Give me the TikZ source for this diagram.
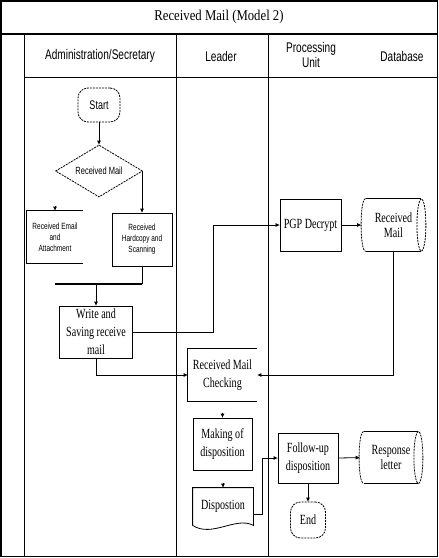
\documentclass[tikz,border=0pt]{standalone}
\usepackage{fontspec}
\setmainfont[FakeStretch=0.72]{Liberation Serif}
\setsansfont[FakeStretch=0.72]{Liberation Sans}
\newfontfamily\titlefont[FakeStretch=0.85]{Liberation Serif}
\usetikzlibrary{arrows.meta,shapes.geometric}

\begin{document}
\begin{tikzpicture}[x=1pt, y=-1pt, line width=0.8pt,
    arr/.style={-{Triangle[length=4pt,width=3.5pt]}},
    brk/.style={dash pattern=on 2pt off 1pt},
    lanehead/.style={font=\sffamily\fontsize{14}{15}\selectfont, align=center},
    term/.style={draw, brk, rounded corners=10pt, inner sep=1pt},
    decide/.style={draw, brk, diamond, aspect=1.67, inner sep=1pt,
      minimum width=87, minimum height=52, font=\sffamily\fontsize{10.4}{12}\selectfont},
    smallbox/.style={inner sep=1pt, align=center, font=\sffamily\fontsize{9}{11}\selectfont},
    proc/.style={draw, inner sep=1pt, align=center, font=\fontsize{14}{18}\selectfont},
    store/.style={inner sep=1pt, align=center, font=\fontsize{14}{15}\selectfont}]

  \useasboundingbox (0,0) rectangle (439,558);

  % frame and swim lanes
  \draw[line width=1.5pt] (1,1) rectangle (437.5,556.5);
  \draw[line width=1.5pt] (1,34) -- (437.5,34);
  \draw (24,77) -- (437.5,77);
  \foreach \lx in {24,176,268}
  {
    \draw (\lx,34) -- (\lx,556.5);
  }

  \node (title) at (219,17) {\titlefont\fontsize{15}{17}\selectfont Received Mail (Model 2)};
  \node[lanehead] (hadmin) at (100,56) {Administration/Secretary};
  \node[lanehead] (hleader) at (221,56) {Leader};
  \node[lanehead] (hproc) at (311,55) {Processing\\Unit};
  \node[lanehead] (hdb) at (402,56) {Database};

  % administration / secretary
  \node[term, minimum width=42, minimum height=34,
    font=\sffamily\fontsize{12.5}{14}\selectfont] (start) at (99,105) {Start};
  \node[decide] (recmail) at (99,171) {Received Mail};
  \node[smallbox, minimum width=56, minimum height=52] (email) at (55,237)
    {Received Email\\and\\Attachment};
  \draw (email.north east) -- (email.north west) -- (email.south west) -- (email.south east);
  \node[smallbox, draw, minimum width=60, minimum height=53] (hard) at (142,239.5)
    {Received\\Hardcopy and\\Scanning};
  \coordinate (barL) at (55,284);
  \coordinate (barR) at (142,284);
  \coordinate (barM) at (96,284);
  \draw[line width=2.5pt] (barL) -- (barR);
  \node[proc, minimum width=73, minimum height=52] (write) at (96,332)
    {Write and\\Saving receive\\mail};

  % leader
  \node[proc, draw=none, minimum width=69, minimum height=52] (check) at (222.5,375)
    {Received Mail\\Checking};
  \draw (check.north east) -- (check.north west) -- (check.south west) -- (check.south east);
  \node[proc, minimum width=59, minimum height=52] (making) at (222.5,444)
    {Making of\\disposition};
  \node[proc, draw=none, minimum width=60, minimum height=37] (disp) at (223,506.5) {Dispostion};
  \draw (disp.south west) -- (disp.north west) -- (disp.north east) -- (disp.south east)
    .. controls (236,516) and (212,538) .. (disp.south west);

  % processing unit and database
  \node[proc, minimum width=61, minimum height=52] (pgp) at (310.5,225) {PGP Decrypt};
  \node[store, minimum width=55, minimum height=52] (dbmail) at (393.5,225) {Received\\Mail};
  \node[proc, minimum width=60, minimum height=50] (follow) at (308,458)
    {Follow-up\\disposition};
  \node[store, minimum width=54, minimum height=51] (resp) at (391,457.5) {Response\\letter};
  \node[term, minimum width=35, minimum height=36,
    font=\fontsize{14}{15}\selectfont] (end) at (308,520) {End};
  \foreach \cyl in {dbmail,resp}
  {
    \draw (\cyl.north west) -- (\cyl.north east) (\cyl.south west) -- (\cyl.south east);
    \draw[brk] (\cyl.north west) .. controls +(-6,0) and +(-6,0) .. (\cyl.south west);
    \draw[brk] (\cyl.east) ellipse [x radius=4.5pt, y radius=26pt];
  }

  % connectors
  \coordinate (bend1) at (213,332);
  \coordinate (bend2) at (262,514);
  \draw[arr] (start) -- (recmail);
  \draw[arr] (recmail.east) -| (hard.north);
  \draw[arr] (email.north) ++(0,-5) -- (email.north);
  \draw (hard.south) -- (barR);
  \draw[arr] (barM) -- (write.north);
  \draw[arr] (write.east) -- (bend1) |- (pgp.west);
  \draw[arr, shorten >=4.5pt] (pgp.east) -- (dbmail.west);
  \draw[arr] (dbmail.south) |- (check.east);
  \draw[arr] (write.south) |- (check.west);
  \draw[arr] (making.north) ++(0,-5) -- (making.north);
  \draw[arr] (disp.north) ++(0,-5) -- (disp.north);
  \draw[arr] (disp.east |- bend2) -- (bend2) |- (follow.west);
  \draw[arr, shorten >=4pt] (follow.east) -- (resp.west);
  \draw[arr] (follow.south) -- (end.north);

\end{tikzpicture}
\end{document}
